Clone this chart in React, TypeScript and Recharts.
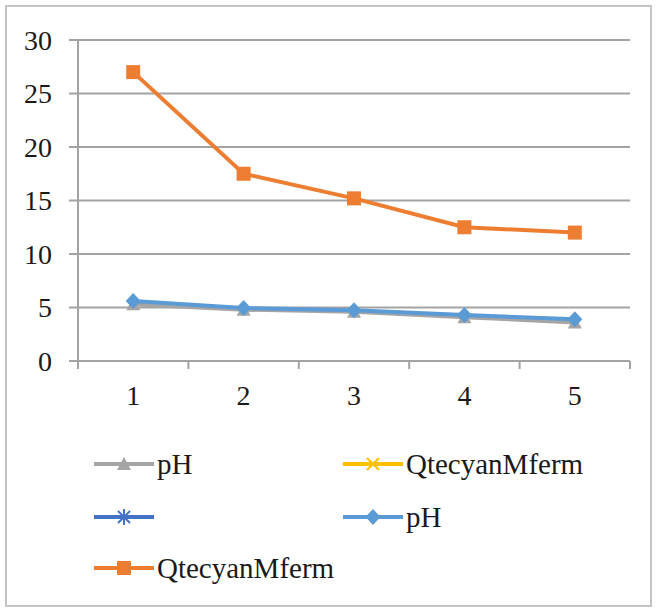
import { CartesianGrid, Legend, Line, LineChart, XAxis, YAxis } from 'recharts'

// Five categories, two visible pH series, one fermentation series and two
// series that only appear in the legend (no plotted values).
const categories = [1, 2, 3, 4, 5]
const phGray = [5.3, 4.8, 4.6, 4.1, 3.6]
const qtecyanYellow: (number | null)[] = [null, null, null, null, null]
const unnamedStar: (number | null)[] = [null, null, null, null, null]
const phBlue = [5.6, 4.95, 4.75, 4.3, 3.9]
const qtecyanOrange = [27, 17.5, 15.2, 12.5, 12.0]
const yTicks = [0, 5, 10, 15, 20, 25, 30]
const xTicks = [0.5, 1, 1.5, 2, 2.5, 3, 3.5, 4, 4.5, 5, 5.5]

const data = categories.map((c, i) => ({
  x: c,
  phGray: phGray[i],
  qtYellow: qtecyanYellow[i],
  star: unnamedStar[i],
  phBlue: phBlue[i],
  qtOrange: qtecyanOrange[i],
}))

const FONT = 'Liberation Serif, DejaVu Serif, serif'
const GRID = '#a3a3a3'
const TEXT = '#1a1a1a'

type Marker = 'triangle' | 'x' | 'star' | 'diamond' | 'square'

const series: { key: string; label: string; color: string; marker: Marker }[] = [
  { key: 'phGray', label: 'pH', color: '#a5a5a5', marker: 'triangle' },
  { key: 'qtYellow', label: 'QtecyanMferm', color: '#ffc000', marker: 'x' },
  { key: 'star', label: '', color: '#4472c4', marker: 'star' },
  { key: 'phBlue', label: 'pH', color: '#5b9bd5', marker: 'diamond' },
  { key: 'qtOrange', label: 'QtecyanMferm', color: '#ed7d31', marker: 'square' },
]

function markerShape(kind: Marker, cx: number, cy: number, color: string) {
  switch (kind) {
    case 'square':
      return <rect x={cx - 7} y={cy - 7} width={14} height={14} fill={color} />
    case 'diamond':
      return <polygon points={`${cx},${cy - 8} ${cx + 7.5},${cy} ${cx},${cy + 8} ${cx - 7.5},${cy}`} fill={color} />
    case 'triangle':
      return <polygon points={`${cx},${cy - 7} ${cx + 7},${cy + 6} ${cx - 7},${cy + 6}`} fill={color} />
    case 'x':
      return (
        <g stroke={color} strokeWidth={2}>
          <line x1={cx - 6} y1={cy - 6} x2={cx + 6} y2={cy + 6} />
          <line x1={cx - 6} y1={cy + 6} x2={cx + 6} y2={cy - 6} />
        </g>
      )
    case 'star':
      return (
        <g stroke={color} strokeWidth={2}>
          <line x1={cx - 6} y1={cy - 6} x2={cx + 6} y2={cy + 6} />
          <line x1={cx - 6} y1={cy + 6} x2={cx + 6} y2={cy - 6} />
          <line x1={cx} y1={cy - 8} x2={cx} y2={cy + 8} />
        </g>
      )
  }
}

function makeDot(kind: Marker, color: string) {
  return (p: any) => {
    if (p.cx == null || p.cy == null || p.value == null) return <g key={p.index} />
    return <g key={p.index}>{markerShape(kind, p.cx, p.cy, color)}</g>
  }
}

// Excel draws the category ticks between categories, labels in the middle.
function XTick({ x, y, payload }: any) {
  const v = payload.value
  if (Number.isInteger(v)) {
    return (
      <text x={x} y={y + 24} dy="0.71em" textAnchor="middle" fontSize={28} fontFamily={FONT} fill={TEXT}>
        {v}
      </text>
    )
  }
  return <line x1={x} x2={x} y1={y} y2={y + 8} stroke={GRID} strokeWidth={2} />
}

const legendSlots = [
  { left: 94, top: 464 },
  { left: 343, top: 464 },
  { left: 94, top: 517 },
  { left: 343, top: 517 },
  { left: 94, top: 568 },
]

function LegendBox() {
  return (
    <div style={{ position: 'relative', width: 658, height: 610 }}>
      {series.map((s, i) => (
        <div
          key={s.key}
          style={{
            position: 'absolute',
            left: legendSlots[i].left,
            top: legendSlots[i].top - 20,
            height: 40,
            display: 'flex',
            alignItems: 'center',
            whiteSpace: 'nowrap',
          }}
        >
          <svg width={60} height={40} style={{ display: 'block' }}>
            <line x1={0} x2={60} y1={20} y2={20} stroke={s.color} strokeWidth={4} />
            {markerShape(s.marker, 30, 20, s.color)}
          </svg>
          <span style={{ marginLeft: 3, fontFamily: FONT, fontSize: 29, color: TEXT }}>{s.label}</span>
        </div>
      ))}
    </div>
  )
}

export default function App() {
  return (
    <div style={{ position: 'absolute', left: 0, top: 0, width: 658, height: 610, background: '#fff' }}>
      <div
        style={{
          position: 'absolute',
          left: 5,
          top: 5,
          width: 647,
          height: 602,
          border: '2px solid #c4c4c4',
          boxSizing: 'border-box',
        }}
      />
      <LineChart width={658} height={610} data={data} margin={{ top: 40, right: 28, bottom: 189, left: 0 }}>
        <CartesianGrid vertical={false} stroke={GRID} strokeWidth={2} />
        <XAxis
          dataKey="x"
          type="number"
          domain={[0.5, 5.5]}
          ticks={xTicks}
          interval={0}
          tickSize={0}
          tickMargin={0}
          tickLine={false}
          tick={<XTick />}
          axisLine={{ stroke: GRID, strokeWidth: 2 }}
          height={60}
        />
        <YAxis
          domain={[0, 30]}
          ticks={yTicks}
          width={78}
          tickSize={9}
          tickMargin={17}
          axisLine={{ stroke: GRID, strokeWidth: 2 }}
          tickLine={{ stroke: GRID, strokeWidth: 2 }}
          tick={{ fontSize: 28, fontFamily: FONT, fill: TEXT }}
        />
        <Legend
          layout="horizontal"
          verticalAlign="middle"
          align="center"
          wrapperStyle={{ left: 0, top: 0, width: 658, height: 610, pointerEvents: 'none' }}
          content={<LegendBox />}
        />
        {series.map((s) => (
          <Line
            key={s.key}
            dataKey={s.key}
            name={s.label || ' '}
            stroke={s.color}
            strokeWidth={4}
            dot={makeDot(s.marker, s.color)}
            activeDot={false}
            isAnimationActive={false}
          />
        ))}
      </LineChart>
    </div>
  )
}
